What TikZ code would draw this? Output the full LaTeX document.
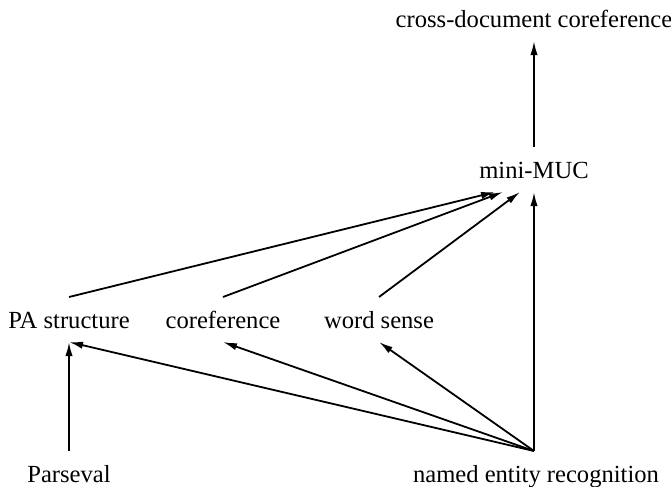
\documentclass[tikz,border=0pt]{standalone}
\usepackage{fontspec}
\setmainfont{Liberation Serif}
\usetikzlibrary{arrows.meta}

\tikzset{
    task/.style={inner sep=0pt, outer sep=7pt, text height=8.5pt, text depth=0pt,
        font=\fontsize{12.3}{14}\selectfont, anchor=base},
    dep/.style={-{Latex[length=7pt, width=3.6pt]}, line width=0.9pt}
}

\begin{document}
\begin{tikzpicture}[x=0.5pt, y=-0.5pt]

                    \useasboundingbox (0, 0) rectangle (671, 487);

                    \node [task] (xdoc) at (534, 27) {cross-document coreference};
                    \node [task] (muc) at (534, 178) {mini-MUC};
                    \node [task] (pa) at (69, 328) {PA structure};
                    \node [task] (coref) at (223, 328) {coreference};
                    \node [task] (wsd) at (379, 328) {word sense};
                    \node [task] (parseval) at (69, 482) {Parseval};
                    \node [task] (ner) at (536, 482) {named entity recognition};

                    \draw [dep] (muc.north) -- (xdoc.south);
                    \draw [dep] (ner.north -| muc.south) -- (muc.south);
                    \draw [dep] (pa.north) -- ([xshift=-19.5pt]muc.south);
                    \draw [dep] (coref.north) -- ([xshift=-15.5pt]muc.south);
                    \draw [dep] (wsd.north) -- ([xshift=-7pt]muc.south);

                    \draw [dep] (parseval.north) -- (pa.south);
                    \foreach \t in {pa, coref, wsd}
                        \draw [dep] (ner.north -| muc.south) -- (\t.south);
                \end{tikzpicture}
\end{document}
